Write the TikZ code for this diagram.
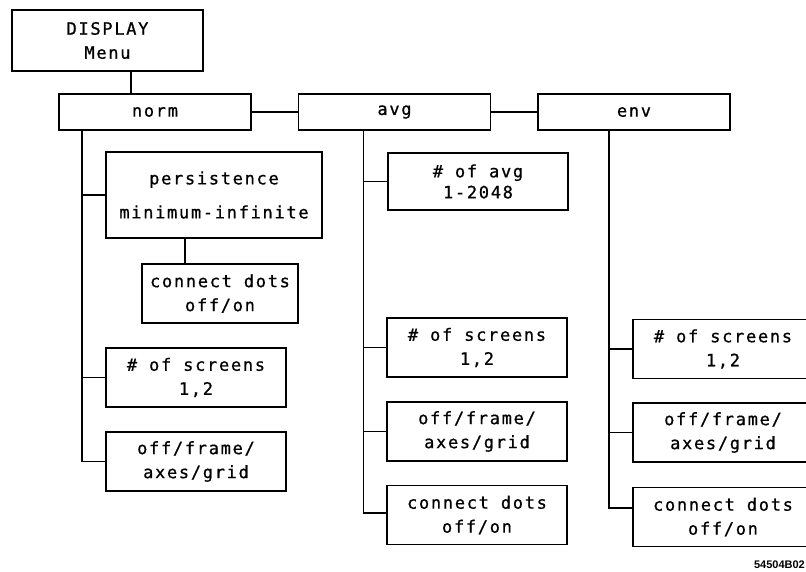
\documentclass[tikz,border=0pt]{standalone}
\usepackage{fontspec}
\newfontfamily\plotfont[LetterSpace=10,FakeBold=0.8]{DejaVu Sans Mono}
\newfontfamily\labfont{Liberation Sans}
\tikzset{
  box/.style={draw, line width=1.6pt, inner sep=0pt, align=center,
    font=\plotfont\fontsize{17}{24}\selectfont},
  topbox/.style={box, minimum width=192pt, minimum height=36pt},
  subbox/.style={box, minimum width=180pt, minimum height=59pt},
  wire/.style={line width=1.5pt}
}
\begin{document}
\begin{tikzpicture}[x=1pt,y=-1pt]
\clip (0,0) rectangle (806,571);
% top level
\node[box, minimum width=191pt, minimum height=61pt] (disp) at (107.5,40.5) {DISPLAY\\Menu};
\node[topbox] (norm) at (155,112) {norm};
\node[topbox] (avg) at (394.5,112) {avg};
\node[topbox] (env) at (634,112) {env};
% norm column
\node[box, minimum width=216pt, minimum height=86pt] (pers) at (214,195) {persistence\\[10pt]minimum-infinite};
\node[box, minimum width=156pt, minimum height=59pt] (ncd) at (220,293.5) {connect dots\\off/on};
\node[subbox] (nscr) at (196,377.5) {\# of screens\\1,2};
\node[subbox] (noff) at (196,461.5) {off/frame/\\axes/grid};
% avg column
\node[box, minimum width=180pt, minimum height=57pt] (navg) at (478,181.5) {\# of avg\\[-3pt]1-2048};
\node[subbox] (ascr) at (477,347.5) {\# of screens\\1,2};
\node[subbox] (aoff) at (477,431.5) {off/frame/\\axes/grid};
\node[subbox] (acd) at (477,515) {connect dots\\off/on};
% env column
\node[subbox] (escr) at (723,349) {\# of screens\\1,2};
\node[subbox] (eoff) at (723,432.5) {off/frame/\\axes/grid};
\node[subbox] (ecd) at (723,517) {connect dots\\off/on};
% label
\node[anchor=south east, inner sep=0pt, font=\labfont\bfseries\fontsize{11}{13}\selectfont] (code) at (805,569) {54504B02};
% connectors
\draw[wire] ([xshift=23.5pt]disp.south) -- ([xshift=23.5pt]disp.south |- norm.north);
\draw[wire] (norm.east) -- (avg.west);
\draw[wire] (avg.east) -- (env.west);
\coordinate (nt) at ([xshift=24pt]norm.south west);
\draw[wire] (nt) |- (noff.west);
\draw[wire] (nt |- pers.west) -- (pers.west);
\draw[wire] (nt |- nscr.west) -- (nscr.west);
\draw[wire] ([xshift=-29pt]pers.south) -- ([xshift=-29pt]pers.south |- ncd.north);
\coordinate (at) at ([xshift=66pt]avg.south west);
\draw[wire] (at) |- ([yshift=2pt]acd.west);
\draw[wire] (at |- navg.west) -- (navg.west);
\draw[wire] (at |- ascr.west) -- (ascr.west);
\draw[wire] (at |- aoff.west) -- (aoff.west);
\coordinate (et) at ([xshift=72pt]env.south west);
\draw[wire] (et) |- ([yshift=9pt]ecd.west);
\draw[wire] (et |- escr.west) -- (escr.west);
\draw[wire] (et |- eoff.west) -- (eoff.west);
\end{tikzpicture}
\end{document}
